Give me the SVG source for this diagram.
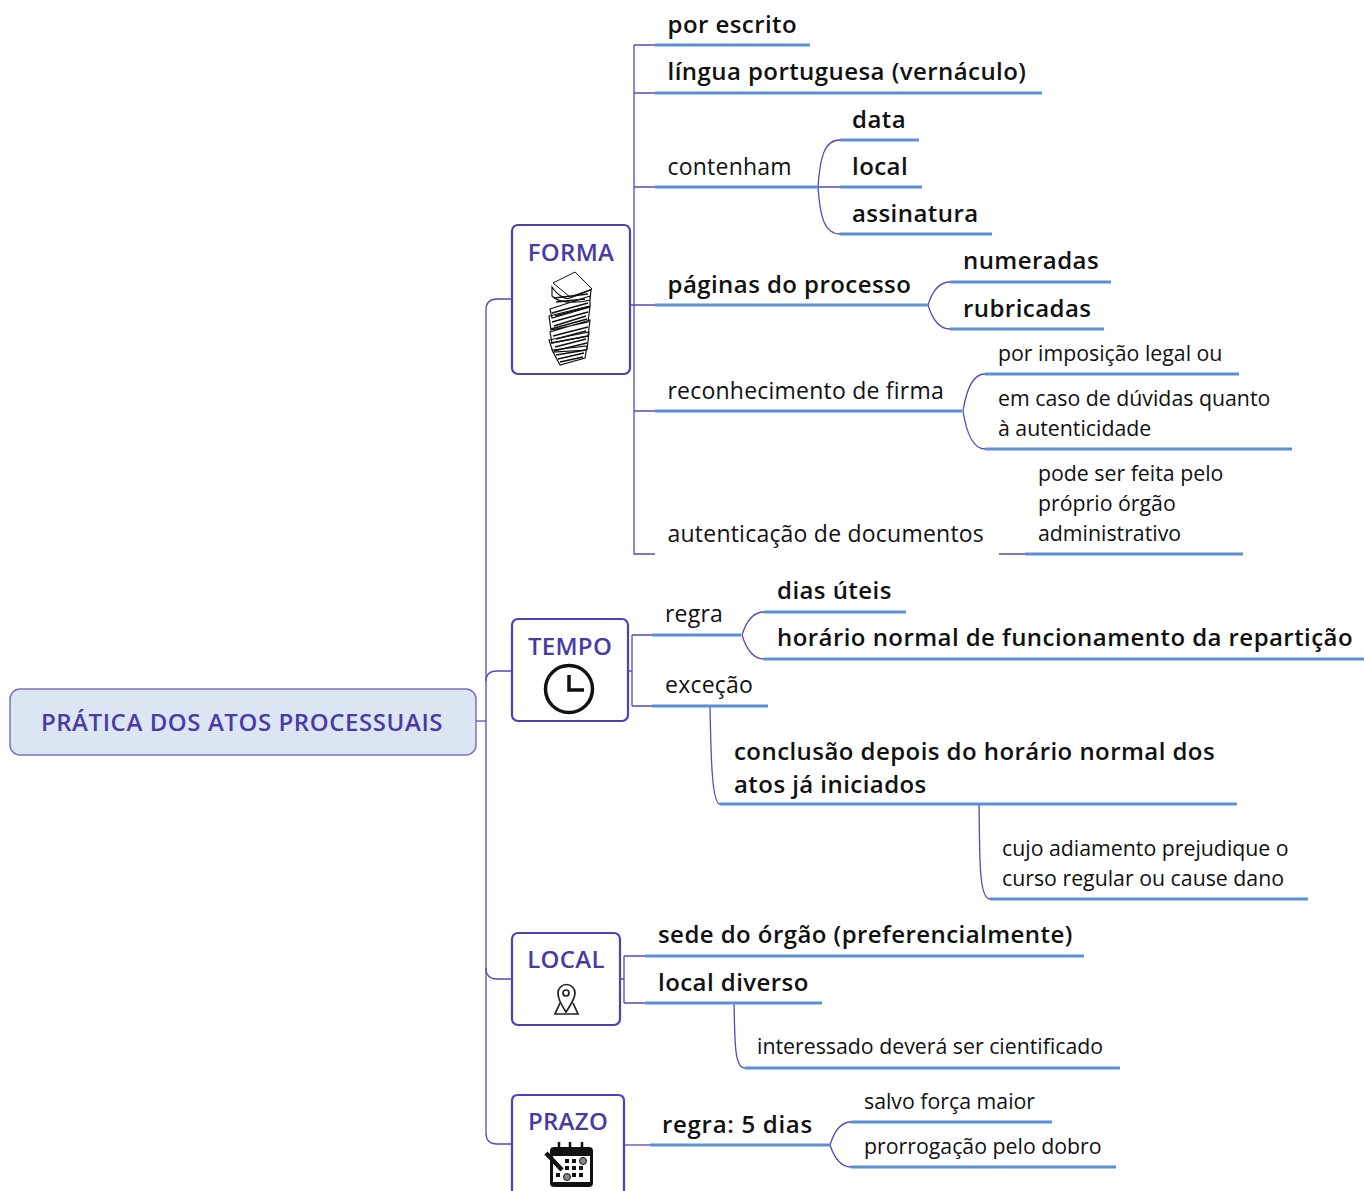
<svg xmlns="http://www.w3.org/2000/svg" width="1364" height="1191" viewBox="0 0 1364 1191">
<style>
text{font-family:"Open Sans","Noto Sans","Liberation Sans",sans-serif;fill:#111}
.b{font-size:24px;font-weight:600;letter-spacing:.44px}
.r{font-size:23px;letter-spacing:.22px}
.s{font-size:21.3px}
.t{font-size:24px;font-weight:600;fill:#4a3aa6;letter-spacing:.3px}
.u{fill:none;stroke:#5b8fd6;stroke-width:3}
.c{fill:none;stroke:#5a48b8;stroke-width:1.3}
.n{fill:#fff;stroke:#4f3fb0;stroke-width:2.2}
.i{fill:#fff;stroke:#111;stroke-width:1}
</style>
<rect width="1364" height="1191" fill="#fff"/>
<g id="connectors">
<path class="c" d="M476 721H486"/>
<path class="c" d="M511 299H497Q486 299 486 310V1133Q486 1144 497 1144H511"/>
<path class="c" d="M486 681Q486 671 497 671H511"/>
<path class="c" d="M486 968Q486 979 497 979H511"/>
<path class="c" d="M630 305H655M634 45V554H655M634 45H655M634 93H655M634 187H655M634 411H655M999 554H1025"/>
<path class="c" d="M818 187C820 158 824 140 840 140M818 187H840M818 187C820 216 824 234 840 234"/>
<path class="c" d="M928 305C932 292 938 282 950 282M928 305C932 318 938 329 950 329"/>
<path class="c" d="M963 411C966 392 972 374 985 374M963 411C966 430 972 449 985 449"/>
<path class="c" d="M628 671H632M632 635V706M632 635H652M632 706H652"/>
<path class="c" d="M742 635C746 622 752 612 764 612M742 635C746 648 752 659 764 659"/>
<path class="c" d="M710 706C711 760 712 804 720 804"/>
<path class="c" d="M979 804C980 850 978 899 990 899"/>
<path class="c" d="M620 979H624M624 956V1003M624 956H645M624 1003H645"/>
<path class="c" d="M734 1003C735 1040 734 1068 745 1068"/>
<path class="c" d="M624 1145H650"/>
<path class="c" d="M830 1145C834 1132 840 1122 851 1122M830 1145C834 1157 840 1167 851 1167"/>
<g>
<path class="u" d="M655 45H810M655 93H1042M655 187H818M840 140H919M840 187H922M840 234H992M655 305H928M950 282H1111M950 329H1104M655 411H962M985 374H1239M985 449H1292M1025 554H1243"/>
<path class="u" d="M652 635H741M764 612H906M764 659H1364M652 706H768M720 804H1237M990 899H1308"/>
<path class="u" d="M645 956H1084M645 1003H822M745 1068H1120M650 1145H830M851 1122H1052M851 1167H1116"/>
</g>
</g>
<g id="root"><rect x="10" y="689" width="466" height="66" rx="10" fill="#dce6f3" stroke="#7a70c0" stroke-width="1.5"/><text class="t" x="242" y="731" text-anchor="middle" style="letter-spacing:.58px">PRÁTICA DOS ATOS PROCESSUAIS</text></g>
<g id="forma"><rect class="n" x="512" y="225" width="118" height="149" rx="6"/><text class="t" x="571" y="261" text-anchor="middle">FORMA</text>
<path class="i" d="M553 283L575 272L592 289L570 297Z"/>
<path d="M552 287C558 296 566 300 570 298L591 290L590 300C578 303 560 304 552 296ZM550 309L590 296L590 307L552 318ZM549 316L590 306L588 322L551 330ZM550 332L590 320L588 336L552 343ZM549 340L589 332L587 350L553 352ZM552 350L587 346L585 358L560 365Z" fill="#fff" stroke="#111" stroke-width="1.200"/>
<path d="M554 298L588 294M556 302L585 299M552 313L588 303M555 316L587 307M552 322L588 312M554 326L586 316M551 329L587 319M553 336L588 327M556 339L586 331M551 343L588 336M555 347L586 339M554 351L587 343M556 355L586 350M558 359L584 353M560 362L583 357" fill="none" stroke="#111" stroke-width="1.500"/></g>
<g id="tempo"><rect class="n" x="512" y="619" width="116" height="102" rx="6"/><text class="t" x="570" y="655" text-anchor="middle">TEMPO</text><circle cx="569" cy="689" r="23.5" fill="none" stroke="#111" stroke-width="3.500"/><path d="M569 675V690H584" fill="none" stroke="#111" stroke-width="3.500"/></g>
<g id="local"><rect class="n" x="512" y="933" width="108" height="92" rx="6"/><text class="t" x="566" y="968" text-anchor="middle">LOCAL</text>
<path d="M566 1012C561 1004 558 999 558 993A8.500 8.500 0 0 1 575 993C575 999 571 1004 566 1012Z" fill="none" stroke="#222" stroke-width="1.700"/><circle cx="566" cy="993" r="3" fill="none" stroke="#222" stroke-width="1.700"/><path d="M560 1003L555 1014H578L573 1003" fill="none" stroke="#222" stroke-width="1.700"/></g>
<g id="prazo"><path class="n" d="M512 1192V1101Q512 1095 518 1095H618Q624 1095 624 1101V1192"/><text class="t" x="568" y="1130" text-anchor="middle">PRAZO</text>
<rect x="550" y="1147" width="43" height="40" rx="4" fill="#111"/><path d="M559 1142V1152M570 1142V1152M582 1142V1152" stroke="#111" stroke-width="2.500"/><rect x="553" y="1156" width="37" height="26" fill="#fff"/><path d="M565 1159h4v4h-4zM572 1159h4v4h-4zM565 1166h4v4h-4zM572 1166h4v4h-4zM579 1166h4v4h-4zM556 1173h4v4h-4zM572 1173h4v4h-4zM579 1173h4v4h-4z" fill="#111"/><circle cx="583" cy="1161" r="3.500" fill="#888" stroke="#111"/><circle cx="567" cy="1177" r="3.500" fill="#888" stroke="#111"/><path d="M546 1153L562 1170" stroke="#111" stroke-width="4.500"/></g>
<g id="labels">
<text class="b" x="667.500" y="33">por escrito</text>
<text class="b" x="667.500" y="80">língua portuguesa (vernáculo)</text>
<text class="r" x="667.500" y="175">contenham</text>
<text class="b" x="852" y="128">data</text>
<text class="b" x="852" y="175">local</text>
<text class="b" x="852" y="222">assinatura</text>
<text class="b" x="667.500" y="293">páginas do processo</text>
<text class="b" x="963" y="269">numeradas</text>
<text class="b" x="963" y="317">rubricadas</text>
<text class="r" x="667.500" y="399">reconhecimento de firma</text>
<text class="s" x="998" y="361">por imposição legal ou</text>
<text class="s" x="998" y="406">em caso de dúvidas quanto</text>
<text class="s" x="998" y="436">à autenticidade</text>
<text class="r" x="667.500" y="542">autenticação de documentos</text>
<text class="s" x="1038" y="481">pode ser feita pelo</text>
<text class="s" x="1038" y="511">próprio órgão</text>
<text class="s" x="1038" y="541">administrativo</text>
<text class="r" x="665" y="622">regra</text>
<text class="r" x="665" y="693">exceção</text>
<text class="b" x="777" y="599">dias úteis</text>
<text class="b" x="777" y="646">horário normal de funcionamento da repartição</text>
<text class="b" x="734" y="760">conclusão depois do horário normal dos</text>
<text class="b" x="734" y="793">atos já iniciados</text>
<text class="s" x="1002" y="856">cujo adiamento prejudique o</text>
<text class="s" x="1002" y="886">curso regular ou cause dano</text>
<text class="b" x="658" y="943">sede do órgão (preferencialmente)</text>
<text class="b" x="658" y="991">local diverso</text>
<text class="s" x="757" y="1054">interessado deverá ser cientificado</text>
<text class="b" x="662" y="1133" style="letter-spacing:.7px">regra: 5 dias</text>
<text class="s" x="864" y="1109">salvo força maior</text>
<text class="s" x="864" y="1154">prorrogação pelo dobro</text>
</g>
</svg>
